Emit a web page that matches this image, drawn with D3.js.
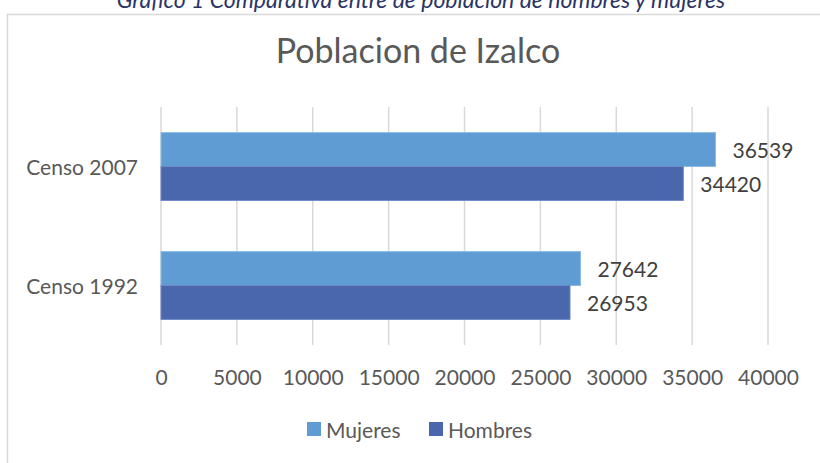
<!DOCTYPE html>
<html>
<head>
<meta charset="utf-8">
<script src="https://cdn.jsdelivr.net/npm/d3@7"></script>
<style>
  html, body { margin: 0; padding: 0; background: #ffffff; }
  svg { display: block; font-family: Lato, "Open Sans", sans-serif; }
</style>
</head>
<body>
<svg id="chart" width="820" height="463"></svg>
<script>
const caption = "Gráfico 1 Comparativa entre de población de hombres y mujeres";
const title = "Poblacion de Izalco";
const categories = ["Censo 2007", "Censo 1992"];
const seriesNames = ["Mujeres", "Hombres"];
const mujeres = [36539, 27642];
const hombres = [34420, 26953];
const tickValues = [0, 5000, 10000, 15000, 20000, 25000, 30000, 35000, 40000];
const colors = ["#5e9cd3", "#4a66ad"];

const series = [mujeres, hombres];
const svg = d3.select("#chart");

// outer chart frame
svg.append("rect")
  .attr("x", 7.5).attr("y", 14.5)
  .attr("width", 830).attr("height", 470)
  .attr("fill", "none").attr("stroke", "#d9d9d9").attr("stroke-width", 1.5);

// caption (partly above the top edge, as in the source)
svg.append("text")
  .attr("x", 421).attr("y", 8)
  .attr("text-anchor", "middle")
  .attr("font-style", "italic")
  .attr("font-size", 23)
  .attr("fill", "#2b3565")
  .text(caption);

// title
svg.append("text")
  .attr("x", 418).attr("y", 63)
  .attr("text-anchor", "middle")
  .attr("font-size", 34)
  .attr("fill", "#595959")
  .text(title);

const x = d3.scaleLinear().domain([0, 40000]).range([161, 768]);
const y = d3.scaleBand().domain(categories).range([107, 345])
  .paddingInner(0.43).paddingOuter(0.215);
const ySub = d3.scaleBand().domain(seriesNames).range([0, y.bandwidth()]);

// gridlines
svg.append("g")
  .selectAll("line")
  .data(tickValues)
  .join("line")
  .attr("x1", d => x(d)).attr("x2", d => x(d))
  .attr("y1", 107).attr("y2", 345)
  .attr("stroke", "#d9d9d9").attr("stroke-width", 1.5);

// x axis labels
const xAxis = d3.axisBottom(x).tickValues(tickValues).tickSize(0).tickPadding(0).tickFormat(d3.format("d"));
const gx = svg.append("g").attr("transform", "translate(0,376)").call(xAxis);
gx.select(".domain").remove();
gx.selectAll("text")
  .attr("font-family", "Lato, sans-serif")
  .attr("font-size", 21)
  .attr("fill", "#595959")
  .attr("dy", null)
  .attr("y", 0)
  .attr("dominant-baseline", "central");

// y axis labels
const yAxis = d3.axisLeft(y).tickSize(0).tickPadding(0);
const gy = svg.append("g").attr("transform", "translate(138,0)").call(yAxis);
gy.select(".domain").remove();
gy.selectAll("text")
  .attr("font-family", "Lato, sans-serif")
  .attr("font-size", 21)
  .attr("fill", "#595959")
  .attr("dy", null)
  .attr("dominant-baseline", "central");

// bars
seriesNames.forEach((name, si) => {
  const g = svg.append("g");
  g.selectAll("rect")
    .data(categories)
    .join("rect")
    .attr("x", x(0))
    .attr("y", (c) => y(c) + ySub(name))
    .attr("width", (c, i) => x(series[si][i]) - x(0))
    .attr("height", ySub.bandwidth())
    .attr("fill", colors[si])
    .attr("stroke", si === 0 ? "#8dbbe6" : "#6f88c6")
    .attr("stroke-width", 1);
  g.selectAll("text")
    .data(categories)
    .join("text")
    .attr("x", (c, i) => x(series[si][i]) + 17)
    .attr("y", (c) => y(c) + ySub(name) + ySub.bandwidth() / 2)
    .attr("dominant-baseline", "central")
    .attr("font-size", 21)
    .attr("fill", "#404040")
    .text((c, i) => series[si][i]);
});

// legend
const legendX = [307, 429];
const lg = svg.append("g");
seriesNames.forEach((name, si) => {
  lg.append("rect")
    .attr("x", legendX[si]).attr("y", 422)
    .attr("width", 14).attr("height", 14)
    .attr("fill", colors[si]);
  lg.append("text")
    .attr("x", legendX[si] + 19).attr("y", 429)
    .attr("dominant-baseline", "central")
    .attr("font-size", 21)
    .attr("fill", "#595959")
    .text(name);
});
</script>
</body>
</html>
